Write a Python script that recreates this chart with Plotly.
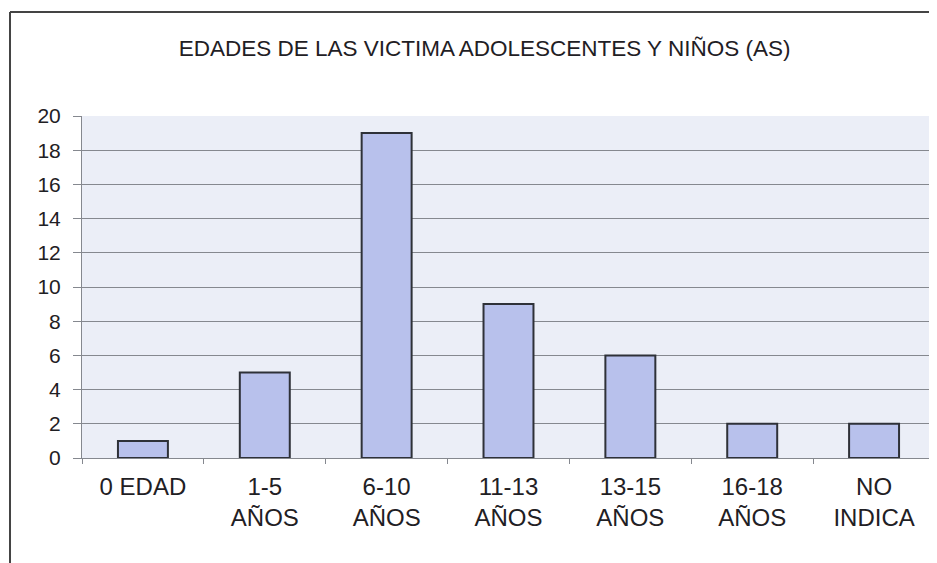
import plotly.graph_objects as go

categories = ["0 EDAD", "1-5<br>AÑOS", "6-10<br>AÑOS", "11-13<br>AÑOS",
              "13-15<br>AÑOS", "16-18<br>AÑOS", "NO<br>INDICA"]
victimas = [1, 5, 19, 9, 6, 2, 2]
y_ticks = list(range(0, 21, 2))

fig = go.Figure()
fig.add_trace(
    go.Bar(
        x=categories,
        y=victimas,
        marker_color="#b8c1ec",
        marker_line_color="#2e3138",
        marker_line_width=2,
        width=0.41,
    )
)

# page has an 8px body margin, so the figure is sized to fit inside it
fig.update_layout(
    width=929,
    height=555,
    paper_bgcolor="white",
    plot_bgcolor="#ebeef7",
    showlegend=False,
    font=dict(family="Liberation Sans, Arial, sans-serif", color="#1f2024"),
    title=dict(
        text="EDADES DE LAS VICTIMA ADOLESCENTES Y NIÑOS (AS)",
        x=0.513,
        xanchor="center",
        y=0.928,
        yanchor="middle",
        font=dict(size=22.5),
    ),
    margin=dict(l=74, r=2, t=108, b=105),
)
fig.update_yaxes(
    range=[0, 20],
    tickvals=y_ticks,
    showgrid=True,
    gridcolor="#85888f",
    gridwidth=1,
    tickfont=dict(size=21),
    ticks="outside",
    ticklen=8,
    tickcolor="#85888f",
    ticklabelstandoff=8,
    showline=True,
    linecolor="#85888f",
    zeroline=False,
)
fig.update_xaxes(
    tickfont=dict(size=24),
    showline=True,
    linecolor="#85888f",
    ticks="outside",
    tickson="boundaries",
    ticklen=5,
    tickcolor="#85888f",
    ticklabelstandoff=7,
)

# chart frame (scanned border on left and top)
fig.add_shape(type="line", xref="paper", yref="paper", x0=-0.0844, x1=1.003, y0=1.304, y1=1.304,
              line=dict(color="#444", width=2))
fig.add_shape(type="line", xref="paper", yref="paper", x0=-0.0844, x1=-0.0844, y0=1.304, y1=-0.31,
              line=dict(color="#444", width=2))

fig.write_html("out.html")
